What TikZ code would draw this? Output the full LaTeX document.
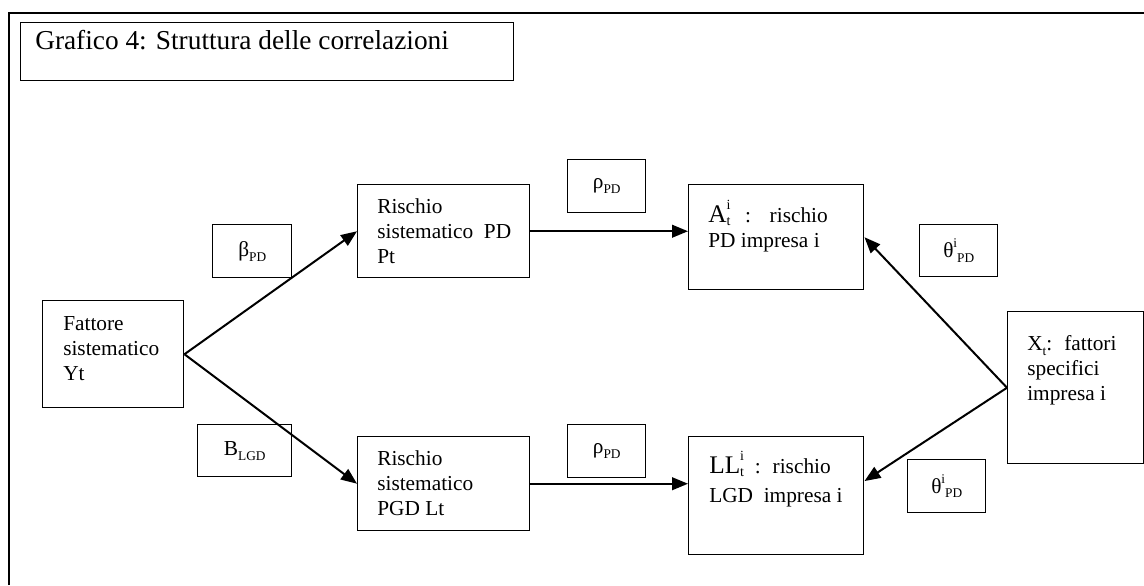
\documentclass[tikz,border=0pt]{standalone}
\usepackage{fontspec}
\setmainfont{Liberation Serif}
\usetikzlibrary{arrows.meta, positioning}
\tikzset{
	boxnode/.style={draw, line width=1.1pt, rectangle, inner sep=0pt, anchor=north west, font=\fontsize{16}{18.4}\selectfont}
}
\tikzset{
	boxtext/.style={anchor=base west, align=left, inner sep=0pt, font=\fontsize{16}{18.4}\selectfont}
}
\tikzset{
	link/.style={line width=1.5pt, -{Triangle[length=12pt,width=9.5pt]}}
}
\newcommand{\subtx}[1]{\raisebox{-0.22em}{\fontsize{10}{10}\selectfont #1}}
\newcommand{\suptx}[1]{\raisebox{0.45em}{\fontsize{10}{10}\selectfont #1}}
\newcommand{\stackit}[2]{\rlap{\raisebox{0.6em}{\fontsize{10.5}{10.5}\selectfont #1}}\raisebox{-0.15em}{\fontsize{10.5}{10.5}\selectfont #2}}

\begin{document}
\begin{tikzpicture}[x=0.75pt, y=-0.75pt]
      \useasboundingbox (0,0) rectangle (1144,585);
      % frame and title
      \draw[line width=1.6pt] (9,585) -- (9,13) -- (1144,13);
      \node[boxnode, minimum width=369.75pt, minimum height=43.5pt] (title) at (20,22) {};
      \node[boxtext, font=\fontsize{20.5}{24}\selectfont] (titletx) at (35,50) {Grafico 4: Struttura delle correlazioni};
      % boxes
      \node[boxnode, minimum width=105.75pt, minimum height=80.25pt] (fat) at (42,300) {};
      \node[boxnode, minimum width=129pt, minimum height=69.75pt] (rpd) at (357,184) {};
      \node[boxnode, minimum width=129pt, minimum height=70.5pt] (rlgd) at (357,436) {};
      \node[boxnode, minimum width=131.25pt, minimum height=78.75pt] (apd) at (688,184) {};
      \node[boxnode, minimum width=131.25pt, minimum height=88.5pt] (llgd) at (688,436) {};
      \node[boxnode, minimum width=102pt, minimum height=114pt] (xt) at (1007,311) {};
      % texts of the boxes (anchored at the last line)
      \node[boxtext] (fattx) at (63,380) {Fattore\\sistematico\\Yt};
      \node[boxtext] (rpdtx) at (377,263) {Rischio\\sistematico\ \ PD\\Pt};
      \node[boxtext] (rlgdtx) at (377,515) {Rischio\\sistematico\\PGD Lt};
      \node[boxtext] (apdtx) at (708,247) {{\fontsize{19}{19}\selectfont A}\stackit{i}{t}\hspace{11pt}:\hspace{14pt}rischio\\PD impresa i};
      \node[boxtext] (llgdtx) at (709,502) {{\fontsize{19}{19}\selectfont LL}\stackit{i}{t}\hspace{8pt}:\hspace{9pt}rischio\\[3pt]LGD\ \ impresa i};
      \node[boxtext] (xttx) at (1027,400) {X\subtx{t}:\hspace{9pt}fattori\\specifici\\impresa i};
      % coefficient boxes
      \node[boxnode, minimum width=59.25pt, minimum height=39.75pt] (bpd) at (212,224) {β\subtx{PD}};
      \node[boxnode, minimum width=70.5pt, minimum height=39pt] (blgd) at (197,424) {B\subtx{LGD}};
      \node[boxnode, minimum width=58.5pt, minimum height=39.75pt] (rho1) at (567,159) {ρ\subtx{PD}};
      \node[boxnode, minimum width=58.5pt, minimum height=39.75pt] (rho2) at (567,424) {ρ\subtx{PD}};
      \node[boxnode, minimum width=58.5pt, minimum height=39pt] (th1) at (919,224) {θ\suptx{i}\subtx{PD}};
      \node[boxnode, minimum width=58.5pt, minimum height=39.75pt] (th2) at (907,459) {θ\suptx{i}\subtx{PD}};
      % arrows
      \draw[link] (fat.east) -- (rpd.west);
      \draw[link] (fat.east) -- (rlgd.west);
      \draw[link] (rpd.east) -- (apd.west |- rpd.east);
      \draw[link] (rlgd.east) -- (llgd.west |- rlgd.east);
      \draw[link] (xt.west) -- (apd.east);
      \draw[link] (xt.west) -- ([yshift=11pt]llgd.east);
\end{tikzpicture}
\end{document}
